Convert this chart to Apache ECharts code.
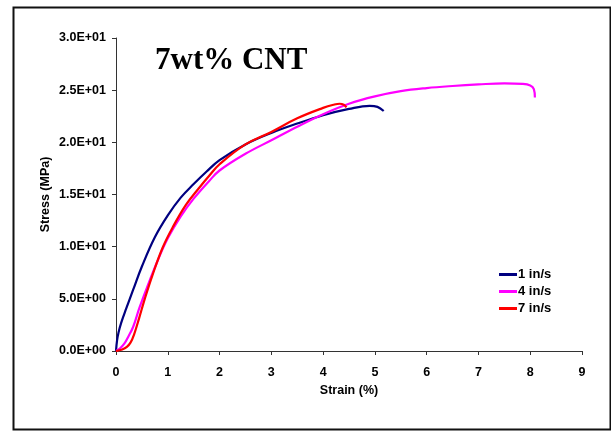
<!DOCTYPE html>
<html>
<head>
<meta charset="utf-8">
<script src="https://cdn.jsdelivr.net/npm/echarts@6/dist/echarts.min.js"></script>
<style>html,body{margin:0;padding:0;background:#fff}#c{width:611px;height:431px}</style>
</head>
<body>
<div id="c"></div>
<script>
// Strain (%) / Stress (MPa) pairs
const seriesNames = ['1 in/s', '4 in/s', '7 in/s'];
const strain1 = [0, 0.02, 0.05, 0.1, 0.2, 0.33, 0.5, 0.75, 1.0, 1.25, 1.5, 1.75, 2.0, 2.5, 3.0, 3.5, 4.0, 4.5, 4.9, 5.05, 5.17];
const stress1 = [0, 1.0, 1.8, 2.7, 4.1, 5.85, 8.1, 10.9, 13.0, 14.7, 16.0, 17.2, 18.3, 19.8, 20.9, 21.8, 22.6, 23.2, 23.5, 23.4, 23.0];
const strain4 = [0, 0.08, 0.16, 0.24, 0.33, 0.45, 0.6, 0.8, 1.0, 1.25, 1.5, 1.8, 2.0, 2.5, 3.0, 3.5, 4.0, 4.5, 5.0, 5.5, 6.0, 6.5, 7.0, 7.5, 7.85, 8.0, 8.07, 8.09];
const stress4 = [0, 0.26, 0.7, 1.4, 2.3, 4.1, 6.1, 8.6, 10.8, 12.9, 14.6, 16.3, 17.3, 18.9, 20.2, 21.5, 22.7, 23.7, 24.4, 24.9, 25.2, 25.4, 25.55, 25.65, 25.6, 25.45, 25.1, 24.3];
const strain7 = [0, 0.12, 0.21, 0.28, 0.35, 0.45, 0.55, 0.7, 0.9, 1.1, 1.35, 1.6, 1.8, 2.0, 2.5, 3.0, 3.5, 4.0, 4.2, 4.32, 4.4, 4.45];
const stress7 = [0, 0.15, 0.4, 0.8, 1.6, 3.2, 4.9, 7.2, 9.9, 11.9, 14.0, 15.6, 16.8, 17.9, 19.8, 21.0, 22.3, 23.3, 23.6, 23.7, 23.6, 23.35];
const xTicks = ['0','1','2','3','4','5','6','7','8','9'];
const yTicks = ['0.0E+00','5.0E+00','1.0E+01','1.5E+01','2.0E+01','2.5E+01','3.0E+01'];
const colors = ['#000080', '#FF00FF', '#FF0000'];

function pairs(xs, ys) { return xs.map((x, i) => [x, ys[i]]); }
const dataSets = [pairs(strain1, stress1), pairs(strain4, stress4), pairs(strain7, stress7)];

const chart = echarts.init(document.getElementById('c'), null, {renderer: 'canvas'});
const lab = {fontFamily: 'Liberation Sans, Arial, sans-serif', fontWeight: 'bold', fontSize: 12.5, color: '#000'};
chart.setOption({
  animation: false,
  backgroundColor: '#fff',
  graphic: [{
    type: 'rect', left: 11, top: 5, shape: {width: 597, height: 422},
    style: {fill: 'none', stroke: '#111', lineWidth: 2}
  }],
  title: {
    text: '7wt% CNT', left: 150, top: 40,
    textStyle: {fontFamily: 'Liberation Serif, Times New Roman, serif', fontWeight: 'bold', fontSize: 31, color: '#000'}
  },
  legend: {
    orient: 'vertical', left: 494, top: 263, itemGap: 4, itemWidth: 18, itemHeight: 3,
    icon: 'rect',
    data: seriesNames,
    textStyle: Object.assign({}, lab, {fontSize: 13, padding: [0, 0, 0, -4]})
  },
  grid: {left: 116, right: 29, top: 38, bottom: 80},
  xAxis: {
    type: 'value', min: 0, max: 9, interval: 1,
    name: 'Strain (%)', nameLocation: 'middle', nameGap: 33,
    nameTextStyle: lab,
    axisLine: {lineStyle: {color: '#333', width: 1}},
    axisTick: {show: true, length: 4, lineStyle: {color: '#333'}},
    axisLabel: Object.assign({}, lab, {margin: 15, formatter: v => xTicks[Math.round(v)]}),
    splitLine: {show: false}
  },
  yAxis: {
    type: 'value', min: 0, max: 30, interval: 5,
    name: 'Stress (MPa)', nameLocation: 'middle', nameGap: 64, nameMoveOverlap: false,
    nameTextStyle: lab,
    axisLine: {show: true, lineStyle: {color: '#333', width: 1}},
    axisTick: {show: true, length: 4, lineStyle: {color: '#333'}},
    axisLabel: Object.assign({}, lab, {margin: 10, formatter: v => yTicks[Math.round(v / 5)]}),
    splitLine: {show: false}
  },
  series: seriesNames.map((n, i) => ({
    name: n, type: 'line', data: dataSets[i], smooth: 0.4, showSymbol: false, symbol: 'none',
    lineStyle: {color: colors[i], width: 2.2}, itemStyle: {color: colors[i]}
  }))
});
</script>
</body>
</html>
